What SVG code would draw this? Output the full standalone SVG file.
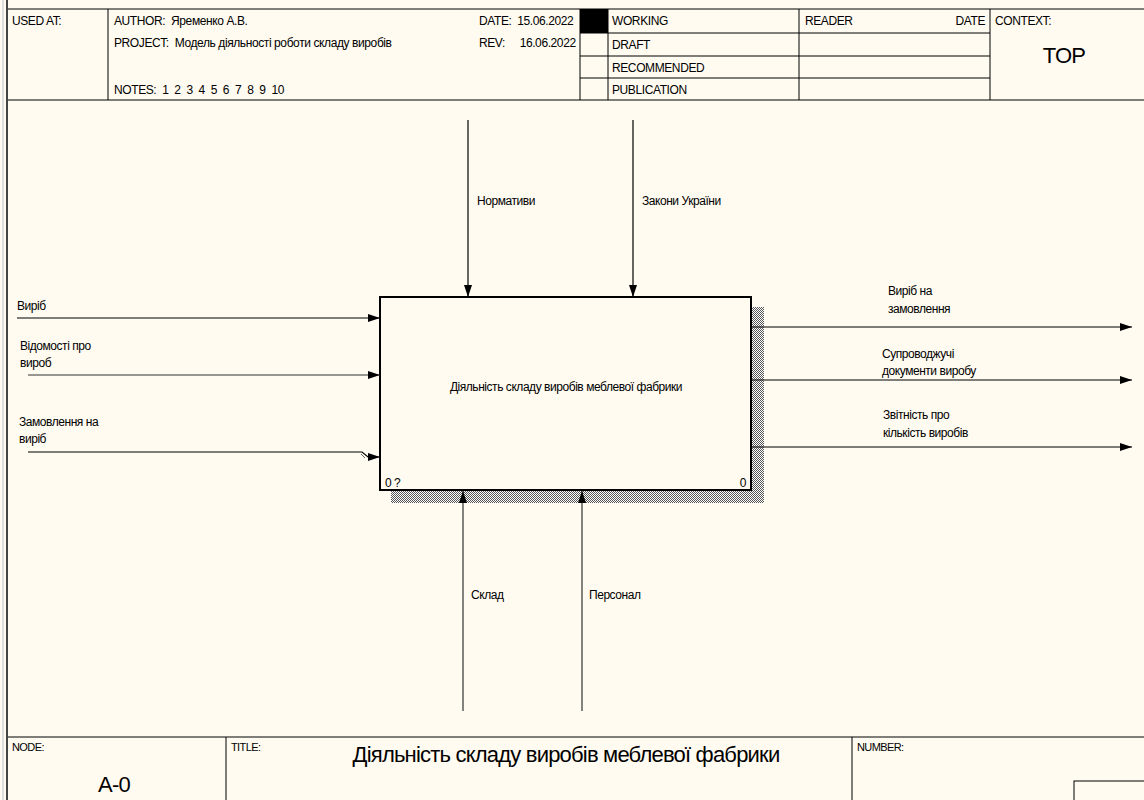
<svg xmlns="http://www.w3.org/2000/svg" width="1144" height="800" viewBox="0 0 1144 800">
<defs>
<style>
text{font-family:"Liberation Sans",Arial,sans-serif;fill:#000;white-space:pre}
.h{font-size:12px;letter-spacing:-0.4px}
.l{font-size:12px;letter-spacing:-0.45px}
.big{font-size:22px;letter-spacing:-0.8px}
.fr{fill:none;stroke:#000;stroke-width:1}
.ar{fill:none;stroke:#000;stroke-width:1.2}
.arg{fill:none;stroke:#333;stroke-width:1.2}
</style>
<marker id="ah" markerWidth="12" markerHeight="8" refX="12" refY="4" orient="auto" markerUnits="userSpaceOnUse">
<path d="M0,0 L12,4 L0,8 Z" fill="#000"/>
</marker>
<pattern id="hatch" width="2" height="2" patternUnits="userSpaceOnUse">
<rect width="2" height="2" fill="#fff"/>
<rect width="1" height="1" fill="#555"/>
<rect x="1" y="1" width="1" height="1" fill="#555"/>
</pattern>
</defs>
<rect width="1144" height="800" fill="#FFFBF0"/>
<line x1="3" y1="0" x2="3" y2="800" stroke="#ddd" stroke-width="2"/>
<line x1="7" y1="0" x2="7" y2="800" stroke="#444" stroke-width="2"/>

<g id="header">
<line x1="8" y1="9" x2="1144" y2="9" class="fr"/>
<line x1="8" y1="100" x2="1144" y2="100" class="fr"/>
<line x1="108" y1="9" x2="108" y2="100" class="fr"/>
<line x1="580" y1="9" x2="580" y2="100" class="fr"/>
<line x1="608" y1="9" x2="608" y2="100" class="fr"/>
<line x1="799" y1="9" x2="799" y2="100" class="fr"/>
<line x1="990" y1="9" x2="990" y2="100" class="fr"/>
<line x1="580" y1="33" x2="990" y2="33" class="fr"/>
<line x1="580" y1="56" x2="990" y2="56" class="fr"/>
<line x1="580" y1="78" x2="990" y2="78" class="fr"/>
<rect x="580" y="9" width="28" height="24" fill="#000"/>
<text x="12" y="25" class="h">USED AT:</text>
<text x="114" y="25" class="h">AUTHOR:  Яременко А.В.</text>
<text x="114" y="47" class="h">PROJECT:  Модель діяльності роботи складу виробів</text>
<text x="114" y="94" class="h">NOTES:  1  2  3  4  5  6  7  8  9  10</text>
<text x="479" y="25" class="h">DATE:  15.06.2022</text>
<text x="479" y="47" class="h">REV:     16.06.2022</text>
<text x="612" y="25" class="h">WORKING</text>
<text x="612" y="49" class="h">DRAFT</text>
<text x="612" y="72" class="h">RECOMMENDED</text>
<text x="612" y="94" class="h">PUBLICATION</text>
<text x="805" y="25" class="h">READER</text>
<text x="985" y="25" class="h" text-anchor="end">DATE</text>
<text x="995" y="25" class="h">CONTEXT:</text>
<text x="1064" y="63" class="big" text-anchor="middle">TOP</text>
</g>

<g id="footer">
<line x1="8" y1="737" x2="1144" y2="737" class="fr"/>
<line x1="226" y1="737" x2="226" y2="800" class="fr"/>
<line x1="852" y1="737" x2="852" y2="800" class="fr"/>
<rect x="1074" y="781" width="80" height="30" class="fr"/>
<text x="12" y="751" style="font-size:11px;letter-spacing:-0.6px">NODE:</text>
<text x="231" y="751" style="font-size:11px;letter-spacing:-0.6px">TITLE:</text>
<text x="857" y="751" style="font-size:11px;letter-spacing:-0.6px">NUMBER:</text>
<text x="566" y="762" class="big" text-anchor="middle">Діяльність складу виробів меблевої фабрики</text>
<text x="114" y="792" class="big" text-anchor="middle">A-0</text>
</g>

<g id="node-A0">
<rect x="751" y="307" width="13" height="196" fill="url(#hatch)"/>
<rect x="391" y="490" width="373" height="13" fill="url(#hatch)"/>
<rect x="380" y="297" width="371" height="193" fill="#FFFBF0" stroke="#000" stroke-width="2"/>
<text x="566" y="391" class="l" text-anchor="middle">Діяльність складу виробів меблевої фабрики</text>
<text x="385" y="487" class="l">0 ?</text>
<text x="746" y="487" class="l" text-anchor="end">0</text>
</g>

<g id="connectors">
<line x1="468" y1="120" x2="468" y2="297" class="ar" marker-end="url(#ah)"/>
<line x1="633" y1="120" x2="633" y2="297" class="ar" marker-end="url(#ah)"/>
<line x1="17" y1="318" x2="380" y2="318" class="ar" marker-end="url(#ah)"/>
<line x1="28" y1="375" x2="380" y2="375" class="arg" marker-end="url(#ah)"/>
<path d="M28,452 L362,452 L368,457 L380,457" class="ar" marker-end="url(#ah)"/>
<line x1="361" y1="454" x2="365" y2="458" stroke="#666" stroke-width="1"/>
<line x1="751" y1="327" x2="1132" y2="327" class="ar" marker-end="url(#ah)"/>
<line x1="751" y1="380" x2="1132" y2="380" class="ar" marker-end="url(#ah)"/>
<line x1="751" y1="447" x2="1132" y2="447" class="ar" marker-end="url(#ah)"/>
<line x1="463" y1="711" x2="463" y2="491" class="arg" marker-end="url(#ah)"/>
<line x1="582" y1="711" x2="582" y2="491" class="arg" marker-end="url(#ah)"/>
</g>

<g id="labels">
<text x="477" y="205" class="l">Нормативи</text>
<text x="642" y="205" class="l">Закони України</text>
<text x="17" y="310" class="l">Виріб</text>
<text x="20" y="350" class="l">Відомості про</text>
<text x="20" y="367" class="l">вироб</text>
<text x="19" y="426" class="l">Замовлення на</text>
<text x="19" y="443" class="l">виріб</text>
<text x="888" y="295" class="l">Виріб на</text>
<text x="888" y="313" class="l">замовлення</text>
<text x="882" y="358" class="l">Супроводжучі</text>
<text x="882" y="375" class="l">документи виробу</text>
<text x="883" y="419" class="l">Звітність про</text>
<text x="883" y="437" class="l">кількість виробів</text>
<text x="471" y="599" class="l">Склад</text>
<text x="589" y="599" class="l">Персонал</text>
</g>
</svg>
